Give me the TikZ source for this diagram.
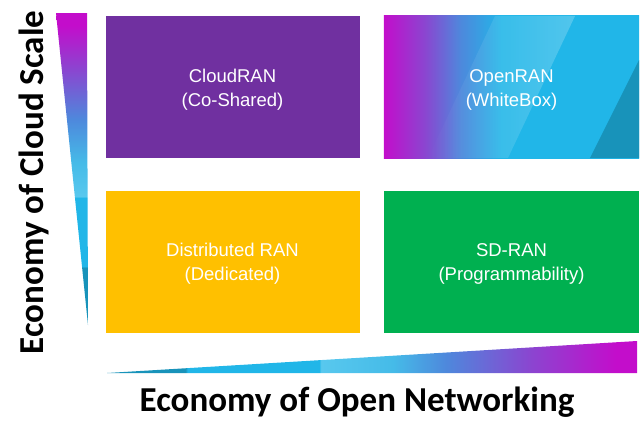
\documentclass[tikz,border=0pt]{standalone}
\usepackage{fontspec}
\setmainfont{Liberation Sans}
\newfontfamily\axisfont{Carlito}
\usetikzlibrary{fadings}
\definecolor{magA}{HTML}{C30DCB}
\definecolor{purpA}{HTML}{8B45D0}
\definecolor{blueA}{HTML}{4E88DC}
\definecolor{cyanA}{HTML}{21B6E8}
\definecolor{cyanL}{HTML}{58C8EE}
\definecolor{cyanM}{HTML}{45BBE8}
\definecolor{tealD}{HTML}{1893BA}
\definecolor{boxPurple}{HTML}{7030A0}
\definecolor{boxYellow}{HTML}{FFC000}
\definecolor{boxGreen}{HTML}{00B050}
\pgfdeclarehorizontalshading{openshade}{100bp}{color(0bp)=(magA); color(25bp)=(magA); color(33bp)=(purpA); color(40bp)=(blueA); color(48bp)=(cyanA); color(100bp)=(cyanA)}
\pgfdeclareverticalshading{leftshade}{100bp}{color(0bp)=(tealD); color(25bp)=(tealD); color(34.2bp)=(tealD); color(34.4bp)=(cyanA); color(45.4bp)=(cyanA); color(45.6bp)=(cyanL); color(51bp)=(cyanM); color(58bp)=(blueA); color(66bp)=(purpA); color(73bp)=(magA); color(100bp)=(magA)}
\pgfdeclarehorizontalshading{bottomshade}{100bp}{color(0bp)=(tealD); color(25bp)=(tealD); color(32.4bp)=(tealD); color(32.6bp)=(cyanA); color(45bp)=(cyanA); color(45.2bp)=(cyanL); color(52bp)=(cyanM); color(57bp)=(blueA); color(65bp)=(purpA); color(73bp)=(magA); color(100bp)=(magA)}
\tikzfading[name=lightfade, left color=transparent!100, right color=transparent!0]
\begin{document}
\begin{tikzpicture}[x=1pt,y=-1pt,
  quad/.style={draw=none, inner sep=0pt, minimum width=254pt, minimum height=142pt},
  lbl/.style={text=white, align=center, inner sep=0pt, font=\fontsize{18.5}{24}\selectfont},
  axislbl/.style={text=black, inner sep=0pt, font=\axisfont\bfseries\fontsize{35}{42}\selectfont}]
\useasboundingbox (0,0) rectangle (640,437);
% quadrant boxes
\node[quad, fill=boxPurple] (cloud) at (232.5,87) {};
\node[quad, minimum width=255pt] (open) at (511.5,87) {};
\node[quad, fill=boxYellow] (dist) at (232.5,262) {};
\node[quad, fill=boxGreen, minimum width=255pt] (sdran) at (511.5,262) {};
% OpenRAN gradient fill
\begin{scope}
  \clip (open.north west) rectangle (open.south east);
  \path[shading=openshade] (open.north west) rectangle (open.south east);
  \fill[white, opacity=0.22, path fading=lightfade] (495,16) -- (575,16) -- (508,158) -- (428,158) -- cycle;
  \fill[tealD] (639,60) -- (639,158) -- (590,158) -- cycle;
\end{scope}
% labels
\node[lbl] (cloudtxt) at ([yshift=-2.5pt]cloud.center) {CloudRAN\\(Co-Shared)};
\node[lbl] (opentxt) at ([yshift=-2.5pt]open.center) {OpenRAN\\(WhiteBox)};
\node[lbl] (disttxt) at ([yshift=-2pt]dist.center) {Distributed RAN\\(Dedicated)};
\node[lbl] (sdtxt) at ([yshift=-2pt]sdran.center) {SD-RAN\\(Programmability)};
% axis wedges
\coordinate (lt1) at (56,13);
\coordinate (lt2) at (87,13);
\coordinate (lt3) at (88,325);
\path[shading=leftshade] (lt1) -- (lt2) -- (lt3) -- cycle;
\coordinate (bt1) at (107,373);
\coordinate (bt2) at (637,341);
\coordinate (bt3) at (637,373);
\path[shading=bottomshade] (bt1) -- (bt2) -- (bt3) -- cycle;
% axis labels
\node[axislbl, anchor=base, rotate=90] (ylab) at (43,182.5) {Economy of Cloud Scale};
\node[axislbl, anchor=base] (xlab) at (357,411) {Economy of Open Networking};
\end{tikzpicture}
\end{document}
